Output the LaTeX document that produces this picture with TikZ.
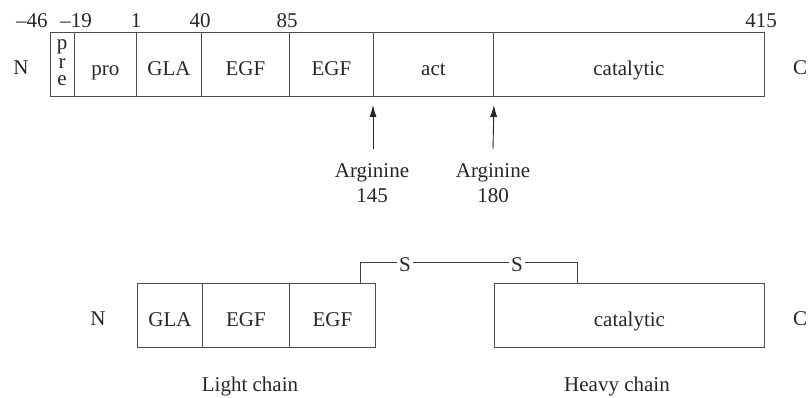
\documentclass[tikz,border=0pt]{standalone}
\usepackage{fontspec}
\setmainfont{Liberation Serif}
\usetikzlibrary{arrows.meta}
\begin{document}
\begin{tikzpicture}[x=1pt,y=-1pt,
  every node/.style={font=\fontsize{21}{25}\selectfont, text=black!85},
  seg/.style={draw=black!70, line width=0.9pt, minimum height=64pt, inner sep=0pt,
    text height=22pt, text depth=0pt, anchor=north west},
  lbl/.style={inner sep=0pt},
  link/.style={draw=black!75, line width=0.9pt},
  arr/.style={draw=black!85, line width=0.9pt, -{Latex[length=12pt,width=7pt]}}]
  \useasboundingbox (0,0) rectangle (808,397);

  % precursor chain
  \node[seg, minimum width=24pt]  (pre)  at (50,32)  {};
  \node[lbl] (prep) at (62,47) {p};
  \node[lbl] (prer) at (62,64) {r};
  \node[lbl] (pree) at (62,81) {e};
  \node[seg, minimum width=62pt]  (pro)  at (74,32)  {pro};
  \node[seg, minimum width=65pt]  (gla)  at (136,32) {GLA};
  \node[seg, minimum width=88pt]  (egfa) at (201,32) {EGF};
  \node[seg, minimum width=84pt]  (egfb) at (289,32) {EGF};
  \node[seg, minimum width=120pt] (act)  at (373,32) {act};
  \node[seg, minimum width=271pt] (cat)  at (493,32) {catalytic};

  % residue numbers
  \node[lbl] (n46)  at (32,21)  {--46};
  \node[lbl] (n19)  at (76,21)  {--19};
  \node[lbl] (n1)   at (136,21) {1};
  \node[lbl] (n40)  at (200,21) {40};
  \node[lbl] (n85)  at (287,21) {85};
  \node[lbl] (n415) at (761,21) {415};

  \node[lbl] (ntop) at (21,68)  {N};
  \node[lbl] (ctop) at (800,68) {C};

  % cleavage sites
  \node[lbl, align=center] (arg1) at (372,183) {Arginine\\145};
  \node[lbl, align=center] (arg2) at (493,183) {Arginine\\180};
  \coordinate (t1) at (373,149);
  \coordinate (t2) at (493,149);
  \draw[arr] (t1) -- ([yshift=-8pt]act.south west);
  \draw[arr] (t2) -- ([yshift=-8pt]act.south east);

  % light chain
  \node[seg, minimum width=65pt] (lgla)  at (137,283) {GLA};
  \node[seg, minimum width=87pt] (legfa) at (202,283) {EGF};
  \node[seg, minimum width=86pt] (legfb) at (289,283) {EGF};
  \node[lbl] (nbot) at (98,319) {N};
  \node[lbl] (light) at (250,386) {Light chain};

  % heavy chain
  \node[seg, minimum width=270pt] (hcat) at (494,283) {catalytic};
  \node[lbl] (cbot) at (800,319) {C};
  \node[lbl] (heavy) at (617,386) {Heavy chain};

  % disulfide bridge
  \node[inner sep=2pt] (s1) at (405,265) {S};
  \node[inner sep=2pt] (s2) at (517,265) {S};
  \coordinate (b1) at (360,283);
  \coordinate (b2) at (577,283);
  \draw[link] (b1) |- ([yshift=3pt]s1.west);
  \draw[link] ([yshift=3pt]s1.east) -- ([yshift=3pt]s2.west);
  \draw[link] ([yshift=3pt]s2.east) -| (b2);
\end{tikzpicture}
\end{document}
